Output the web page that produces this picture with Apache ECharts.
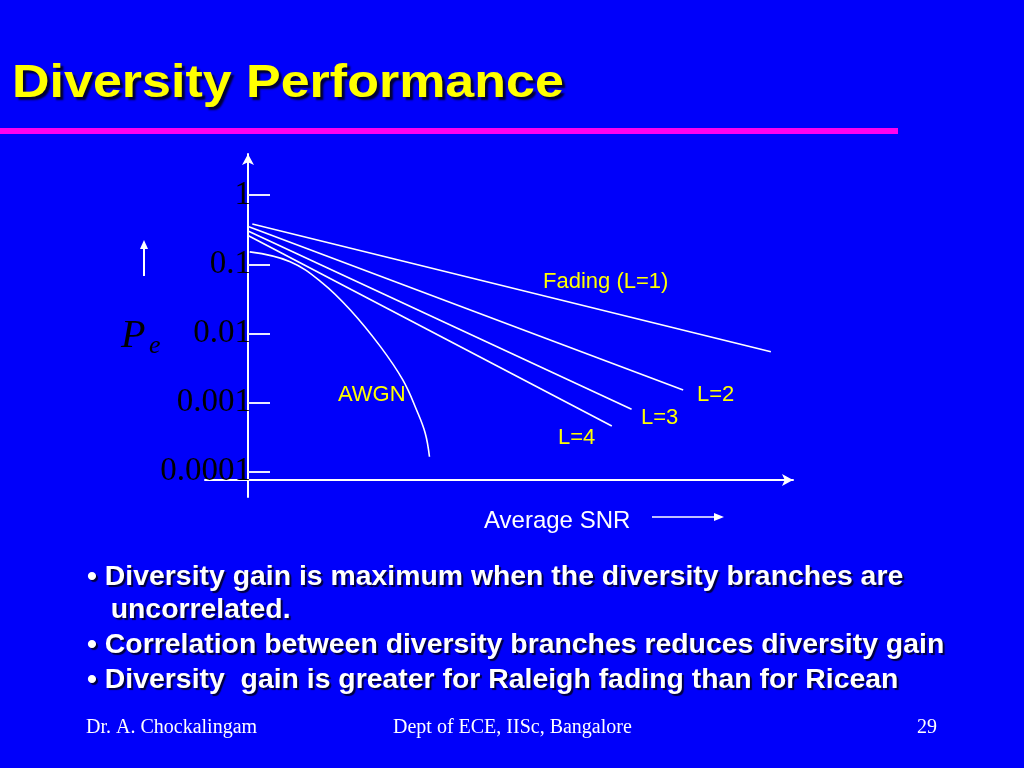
<!DOCTYPE html>
<html>
<head>
<meta charset="utf-8">
<script src="https://cdn.jsdelivr.net/npm/echarts@6/dist/echarts.min.js"></script>
<style>
html,body{margin:0;padding:0;background:#0000fa;}
#chart{width:1024px;height:768px;}
</style>
</head>
<body>
<div id="chart"></div>
<script>
// ---- data ----
const yTicks = [0.0001, 0.001, 0.01, 0.1, 1];
const yTickLabels = ['0.0001', '0.001', '0.01', '0.1', '1'];

const awgnSNR = [0.2, 4.9, 8.7, 11.9, 15.4, 18.0, 19.6, 20.6, 21.1];
const awgnPe  = [0.151, 0.109, 0.0531, 0.0218, 0.00643, 0.00212, 0.000778, 0.000362, 0.000164];

const l1SNR = [0.5, 60.8];
const l1Pe  = [0.383, 0.00543];
const l2SNR = [0.1, 50.6];
const l2Pe  = [0.350, 0.00152];
const l3SNR = [0.0, 44.6];
const l3Pe  = [0.303, 0.000798];
const l4SNR = [0.0, 42.3];
const l4Pe  = [0.261, 0.000457];

const curveLabels = ['Fading (L=1)', 'L=2', 'L=3', 'L=4', 'AWGN'];
const bullets = [
  '\u2022 Diversity gain is maximum when the diversity branches are',
  '   uncorrelated.',
  '\u2022 Correlation between diversity branches reduces diversity gain',
  '\u2022 Diversity  gain is greater for Raleigh fading than for Ricean'
];
const footer = ['Dr. A. Chockalingam', 'Dept of ECE, IISc, Bangalore', '29'];

function zip(xs, ys) { return xs.map((x, i) => [x, ys[i]]); }

const chart = echarts.init(document.getElementById('chart'));
const lineStyle = { color: '#ffffff', width: 1.6 };
const sans = 'Liberation Sans, Arial, sans-serif';
const serif = 'Liberation Serif, Times New Roman, serif';

const option = {
  backgroundColor: '#0000fa',
  animation: false,
  grid: { left: 205, right: 231, top: 154, bottom: 271, containLabel: false },
  xAxis: {
    type: 'value', min: -5, max: 63.37,
    offset: -17,
    axisLine: { show: true, onZero: false, lineStyle: { color: '#ffffff', width: 2 },
      symbol: ['none', 'arrow'], symbolSize: [9, 11] },
    axisTick: { show: false }, axisLabel: { show: false }, splitLine: { show: false }
  },
  yAxis: {
    type: 'log', logBase: 10, min: 4.285e-5, max: 3.945,
    offset: -43,
    axisLine: { show: true, onZero: false, lineStyle: { color: '#ffffff', width: 2 },
      symbol: ['none', 'arrow'], symbolSize: [9, 11] },
    axisTick: { show: true, inside: true, length: 22, customValues: yTicks,
      lineStyle: { color: '#e8e8ff', width: 2 } },
    axisLabel: { show: true, customValues: yTicks, margin: -3,
      color: '#000000', fontFamily: serif, fontSize: 33,
      formatter: function (v) {
        const i = yTicks.findIndex(t => Math.abs(Math.log10(t) - Math.log10(v)) < 1e-6);
        return i >= 0 ? yTickLabels[i] : '';
      } },
    splitLine: { show: false }
  },
  series: [
    { type: 'line', name: 'AWGN', data: zip(awgnSNR, awgnPe), smooth: 0.4, symbol: 'none', lineStyle },
    { type: 'line', name: 'L=1', data: zip(l1SNR, l1Pe), symbol: 'none', lineStyle },
    { type: 'line', name: 'L=2', data: zip(l2SNR, l2Pe), symbol: 'none', lineStyle },
    { type: 'line', name: 'L=3', data: zip(l3SNR, l3Pe), symbol: 'none', lineStyle },
    { type: 'line', name: 'L=4', data: zip(l4SNR, l4Pe), symbol: 'none', lineStyle }
  ],
  graphic: [
    // title
    { type: 'text', x: 12, y: 84, scaleX: 1.13, style: { text: 'Diversity Performance',
      fontFamily: sans, fontWeight: 'bold', fontSize: 46, fill: '#ffff00',
      verticalAlign: 'middle',
      textShadowColor: 'rgba(0,0,40,0.95)', textShadowOffsetX: 3, textShadowOffsetY: 3, textShadowBlur: 2 } },
    { type: 'rect', shape: { x: 0, y: 128, width: 898, height: 6 }, style: { fill: '#ff00f0' } },
    // y axis name P_e with arrow
    { type: 'text', x: 121, y: 336, style: { text: 'P', fontFamily: serif, fontStyle: 'italic',
      fontSize: 40, fill: '#000000', verticalAlign: 'middle' } },
    { type: 'text', x: 149, y: 346, style: { text: 'e', fontFamily: serif, fontStyle: 'italic',
      fontSize: 26, fill: '#000000', verticalAlign: 'middle' } },
    { type: 'line', shape: { x1: 144, y1: 276, x2: 144, y2: 246 }, style: { stroke: '#ffffff', lineWidth: 2 } },
    { type: 'polygon', shape: { points: [[144, 240], [140, 249], [148, 249]] }, style: { fill: '#ffffff' } },
    // curve labels
    { type: 'text', x: 543, y: 282, style: { text: curveLabels[0], fontFamily: sans, fontSize: 22, fill: '#ffff00', verticalAlign: 'middle' } },
    { type: 'text', x: 697, y: 395, style: { text: curveLabels[1], fontFamily: sans, fontSize: 22, fill: '#ffff00', verticalAlign: 'middle' } },
    { type: 'text', x: 641, y: 418, style: { text: curveLabels[2], fontFamily: sans, fontSize: 22, fill: '#ffff00', verticalAlign: 'middle' } },
    { type: 'text', x: 558, y: 438, style: { text: curveLabels[3], fontFamily: sans, fontSize: 22, fill: '#ffff00', verticalAlign: 'middle' } },
    { type: 'text', x: 338, y: 395, style: { text: curveLabels[4], fontFamily: sans, fontSize: 22, fill: '#ffff00', verticalAlign: 'middle' } },
    // x axis name with arrow
    { type: 'text', x: 484, y: 521, style: { text: 'Average SNR', fontFamily: sans, fontSize: 24, fill: '#ffffff', verticalAlign: 'middle' } },
    { type: 'line', shape: { x1: 652, y1: 517, x2: 716, y2: 517 }, style: { stroke: '#ffffff', lineWidth: 1.5 } },
    { type: 'polygon', shape: { points: [[724, 517], [714, 513], [714, 521]] }, style: { fill: '#ffffff' } },
    // bullets
    ...bullets.map((t, i) => ({ type: 'text', x: 87, y: [577, 610, 645, 680][i],
      style: { text: t, fontFamily: sans, fontWeight: 'bold', fontSize: 28.4, fill: '#ffffff',
        verticalAlign: 'middle', textShadowColor: 'rgba(0,0,40,0.9)', textShadowOffsetX: 2, textShadowOffsetY: 2, textShadowBlur: 1 } })),
    // footer
    { type: 'text', x: 86, y: 728, style: { text: footer[0], fontFamily: serif, fontSize: 20, fill: '#ffffff', verticalAlign: 'middle' } },
    { type: 'text', x: 393, y: 728, style: { text: footer[1], fontFamily: serif, fontSize: 20, fill: '#ffffff', verticalAlign: 'middle' } },
    { type: 'text', x: 917, y: 728, style: { text: footer[2], fontFamily: serif, fontSize: 20, fill: '#ffffff', verticalAlign: 'middle' } }
  ]
};
chart.setOption(option);
</script>
</body>
</html>
